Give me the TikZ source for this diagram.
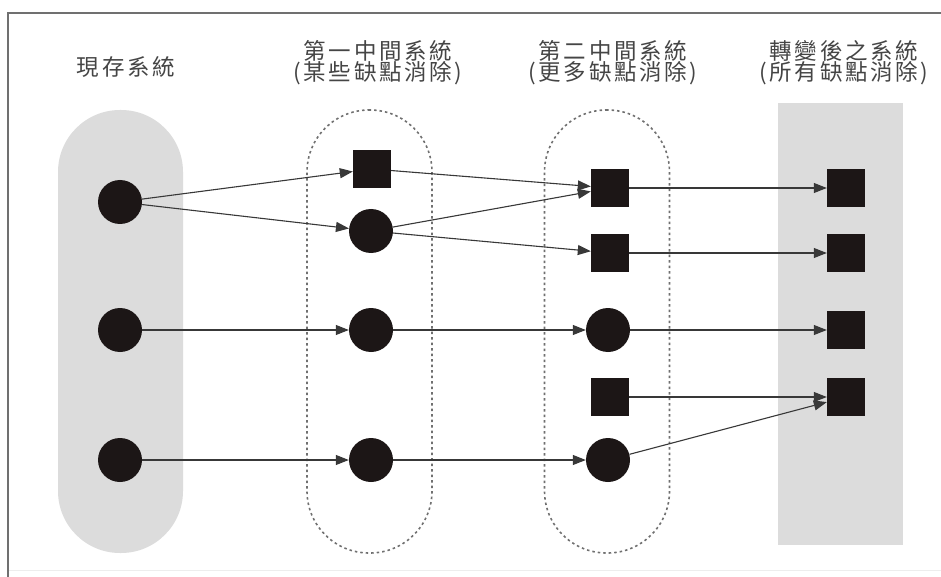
\documentclass[tikz,border=0pt]{standalone}
\usepackage{fontspec}
\newfontfamily\cjk[LetterSpace=12]{Noto Sans CJK TC}
\usetikzlibrary{arrows.meta}
\definecolor{ink}{HTML}{1C1616}
\definecolor{linec}{HTML}{383838}
\definecolor{txt}{HTML}{454545}
\definecolor{gfill}{HTML}{DCDCDC}
\definecolor{dashc}{HTML}{707070}
\definecolor{framec}{HTML}{707070}
\tikzset{
  dot/.style={circle, fill=ink, minimum size=44pt, inner sep=0pt},
  sq/.style={rectangle, fill=ink, minimum size=38pt, inner sep=0pt},
  arr/.style={draw=linec, line width=1.1pt, -{Triangle[length=13pt,width=10pt]}},
  hdr/.style={align=center, text=txt, font=\cjk\fontsize{22.5}{21.5}\selectfont},
  capsule/.style={rectangle, rounded corners=62pt, minimum width=125pt, minimum height=443pt, inner sep=0pt},
  solidcap/.style={capsule, fill=gfill},
  dashcap/.style={capsule, draw=dashc, line width=1.6pt, dash pattern=on 2.5pt off 3pt},
}
\begin{document}
\begin{tikzpicture}[x=1pt, y=-1pt]
  \useasboundingbox (0,0) rectangle (941,577);
  \fill[white] (0,0) rectangle (941,577);
  % frame
  \draw[framec, line width=2pt] (941,13) -- (8,13) -- (8,577);
  \draw[black!7, line width=1pt] (9,570) -- (941,570);

  % group outlines
  \node[solidcap] (g1) at (120.5,331.5) {};
  \node[dashcap]  (g2) at (369.5,331.5) {};
  \node[dashcap]  (g3) at (607,331.5) {};
  \node[rectangle, fill=gfill, minimum width=125pt, minimum height=442pt, inner sep=0pt] (g4) at (840.5,324) {};

  % headers
  \node[hdr] (h1) at (126,67) {現存系統};
  \node[hdr] (h2) at (378,62.5) {第一中間系統\\(某些缺點消除)};
  \node[hdr] (h3) at (613,62.5) {第二中間系統\\(更多缺點消除)};
  \node[hdr] (h4) at (844,62.5) {轉變後之系統\\(所有缺點消除)};

  % existing system
  \node[dot] (a1) at (120,202) {};
  \node[dot] (a2) at (120,330) {};
  \node[dot] (a3) at (120,460) {};
  % first intermediate system
  \node[sq]  (b1) at (372,169) {};
  \node[dot] (b2) at (371,231) {};
  \node[dot] (b3) at (371,330) {};
  \node[dot] (b4) at (371,460) {};
  % second intermediate system
  \node[sq]  (c1) at (610,188) {};
  \node[sq]  (c2) at (610,253) {};
  \node[dot] (c3) at (608,330) {};
  \node[sq]  (c4) at (610,397) {};
  \node[dot] (c5) at (608,460) {};
  % transformed system
  \node[sq]  (d1) at (846,188) {};
  \node[sq]  (d2) at (846,253) {};
  \node[sq]  (d3) at (846,330) {};
  \node[sq]  (d4) at (846,397) {};

  % connectors
  \draw[arr] (a1) -- (b1);
  \draw[arr] (a1) -- (b2);
  \draw[arr] (b1) -- (c1);
  \draw[arr] (b2) -- (c1);
  \draw[arr] (b2) -- (c2);
  \draw[arr] (c1) -- (d1);
  \draw[arr] (c2) -- (d2);
  \draw[arr] (a2) -- (b3);
  \draw[arr] (b3) -- (c3);
  \draw[arr] (c3) -- (d3);
  \draw[arr] (c4) -- (d4);
  \draw[arr] (a3) -- (b4);
  \draw[arr] (b4) -- (c5);
  \draw[arr] (c5) -- (d4);
\end{tikzpicture}
\end{document}
